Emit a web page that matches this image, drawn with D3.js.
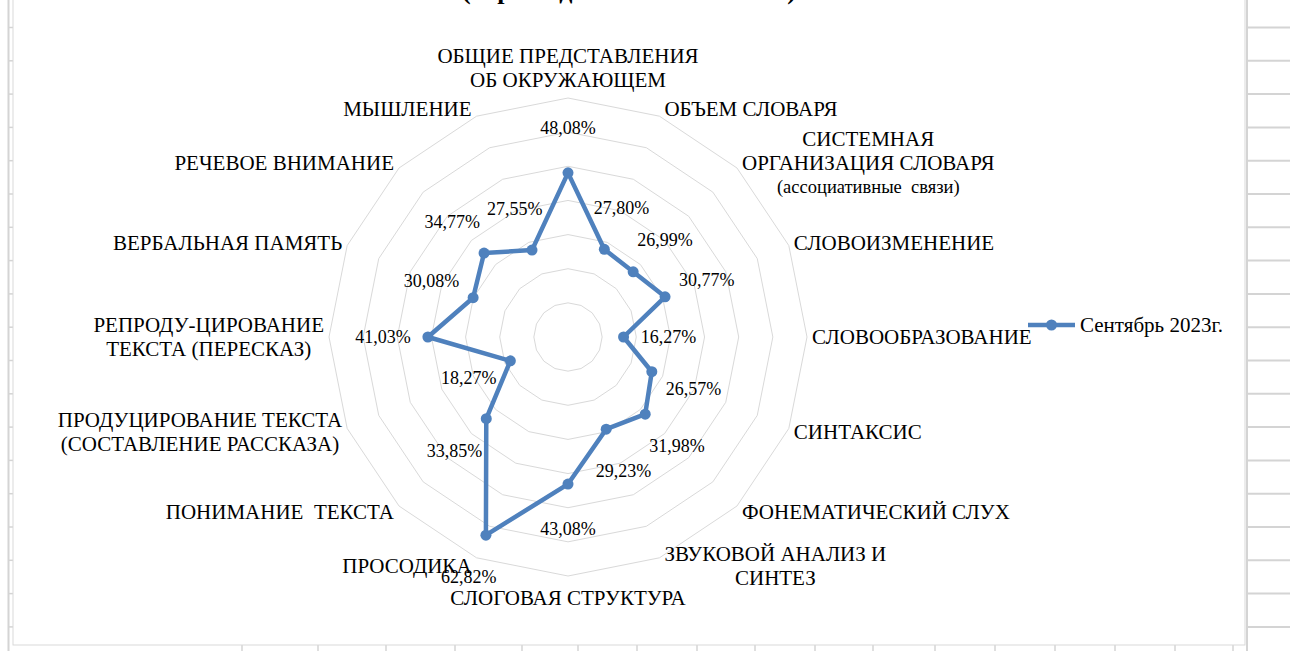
<!doctype html>
<html>
<head>
<meta charset="utf-8">
<title>Радар</title>
<script src="https://d3js.org/d3.v7.min.js"></script>
<style>
body { margin: 0; background: #fff; }
svg text { font-family: "Liberation Serif", "Times New Roman", serif; fill: #000; }
</style>
</head>
<body>
<script>
var chartTitle = "(первая диагностика 2023 г.)";
var seriesName = "Сентябрь 2023г.";
var categories = [
    "ОБЩИЕ ПРЕДСТАВЛЕНИЯ\nОБ ОКРУЖАЮЩЕМ",
    "ОБЪЕМ СЛОВАРЯ",
    "СИСТЕМНАЯ\nОРГАНИЗАЦИЯ СЛОВАРЯ\n(ассоциативные  связи)",
    "СЛОВОИЗМЕНЕНИЕ",
    "СЛОВООБРАЗОВАНИЕ",
    "СИНТАКСИС",
    "ФОНЕМАТИЧЕСКИЙ СЛУХ",
    "ЗВУКОВОЙ АНАЛИЗ И\nСИНТЕЗ",
    "СЛОГОВАЯ СТРУКТУРА",
    "ПРОСОДИКА",
    "ПОНИМАНИЕ  ТЕКСТА",
    "ПРОДУЦИРОВАНИЕ ТЕКСТА\n(СОСТАВЛЕНИЕ РАССКАЗА)",
    "РЕПРОДУ-ЦИРОВАНИЕ\nТЕКСТА (ПЕРЕСКАЗ)",
    "ВЕРБАЛЬНАЯ ПАМЯТЬ",
    "РЕЧЕВОЕ ВНИМАНИЕ",
    "МЫШЛЕНИЕ"
];
var values = [48.08, 27.80, 26.99, 30.77, 16.27, 26.57, 31.98, 29.23,
              43.08, 62.82, 33.85, 18.27, 41.03, 30.08, 34.77, 27.55];
var gridLevels = [10, 20, 30, 40, 50, 60, 70];

// spreadsheet cells around the chart object
var sheetColumns = [242, 318, 386, 455, 522, 578, 637, 697, 755, 815, 873, 935, 995, 1055, 1115, 1175, 1233];

var W = 1290, H = 651;
var cx = 568, cy = 337, R = 239;
var lineH = 24;
var blue = "#4f81bd";

var svg = d3.select("body").append("svg").attr("width", W).attr("height", H);

// background sheet grid
var sheet = svg.append("g").attr("stroke", "#d4d4d4").attr("fill", "none");
var rows = d3.range(27.5, H, 33.3);
sheet.selectAll("line.rl").data(rows).enter().append("line")
    .attr("x1", 8).attr("x2", 13).attr("y1", d => d).attr("y2", d => d).attr("stroke-width", 1.5);
sheet.selectAll("line.rr").data(rows).enter().append("line")
    .attr("x1", 1247).attr("x2", W).attr("y1", d => d).attr("y2", d => d).attr("stroke-width", 2);
sheet.selectAll("line.cb").data(sheetColumns).enter().append("line")
    .attr("x1", d => d).attr("x2", d => d).attr("y1", 645).attr("y2", H).attr("stroke-width", 1.5);
sheet.append("line").attr("x1", 8.5).attr("x2", 8.5).attr("y1", 0).attr("y2", H).attr("stroke-width", 2);
sheet.append("line").attr("x1", 1247).attr("x2", 1247).attr("y1", 0).attr("y2", H).attr("stroke-width", 2);

// chart object
svg.append("rect").attr("x", 13).attr("y", -2).attr("width", 1232).attr("height", 647)
    .attr("fill", "#fff").attr("stroke", "#d9d9d9").attr("stroke-width", 1);

// title (scrolled off the top, only the descenders show)
svg.append("text").attr("x", 629).attr("y", -1)
    .attr("text-anchor", "middle").attr("font-weight", "bold").attr("font-size", 26)
    .text(chartTitle);

var n = categories.length;
var r = d3.scaleLinear().domain([0, 70]).range([0, R]);
var ang = function(i) { return i * 2 * Math.PI / n; };

var plot = svg.append("g").attr("transform", "translate(" + cx + "," + cy + ")");

// grid polygons
var gridLine = d3.lineRadial().curve(d3.curveLinearClosed);
plot.selectAll("path.grid").data(gridLevels).enter().append("path")
    .attr("class", "grid")
    .attr("d", function(lv) { return gridLine(categories.map(function(c, i) { return [ang(i), r(lv)]; })); })
    .attr("fill", "none").attr("stroke", "#d9d9d9").attr("stroke-width", 1);

// series
var seriesLine = d3.lineRadial()
    .angle(function(d, i) { return ang(i); })
    .radius(function(d) { return r(d); })
    .curve(d3.curveLinearClosed);
plot.append("path").attr("d", seriesLine(values))
    .attr("fill", "none").attr("stroke", blue).attr("stroke-width", 4.5).attr("stroke-linejoin", "round");
plot.selectAll("circle.pt").data(values).enter().append("circle")
    .attr("class", "pt")
    .attr("cx", function(d, i) { return r(d) * Math.sin(ang(i)); })
    .attr("cy", function(d, i) { return -r(d) * Math.cos(ang(i)); })
    .attr("r", 5.5).attr("fill", blue);

// data labels
plot.selectAll("text.val").data(values).enter().append("text")
    .attr("class", "val")
    .attr("x", function(d, i) { return (r(d) + 45) * Math.sin(ang(i)); })
    .attr("y", function(d, i) { return -(r(d) + 45) * Math.cos(ang(i)); })
    .attr("dy", "0.35em").attr("text-anchor", "middle").attr("font-size", 18)
    .text(function(d) { return d.toFixed(2).replace(".", ",") + "%"; });

// category labels
plot.selectAll("g.cat").data(categories).enter().append("g")
    .attr("class", "cat")
    .each(function(d, i) {
        var g = d3.select(this);
        var lines = d.split("\n");
        var s = Math.sin(ang(i)), c = Math.cos(ang(i));
        var vx = r(70) * s, vy = -r(70) * c;
        var t = g.selectAll("text").data(lines).enter().append("text")
            .attr("text-anchor", "middle")
            .attr("font-size", function(l) { return /[а-я]/.test(l) ? 18.5 : 21; })
            .style("white-space", "pre")
            .text(function(l) { return l; });
        var w = d3.max(t.nodes(), function(nd) { return nd.getComputedTextLength(); });
        var h = lines.length * lineH;
        var bx, by;
        if (Math.abs(s) < 0.1) {
            bx = vx;
            by = vy + (c > 0 ? -(h / 2 + 6) : (h / 2 + 10));
        } else {
            bx = vx + Math.sign(s) * (5 + w / 2);
            by = vy - c * 8;
        }
        t.attr("x", bx)
            .attr("y", function(l, j) { return by - h / 2 + lineH * j + lineH / 2; })
            .attr("dy", "0.35em");
    });

// legend
var lg = svg.append("g").attr("transform", "translate(1028,325)");
lg.append("line").attr("x1", 0).attr("x2", 47).attr("y1", 0).attr("y2", 0)
    .attr("stroke", blue).attr("stroke-width", 4.5);
lg.append("circle").attr("cx", 23.5).attr("cy", 0).attr("r", 5.5).attr("fill", blue);
lg.append("text").attr("x", 52).attr("y", 0).attr("dy", "0.35em").attr("font-size", 21).text(seriesName);
</script>
</body>
</html>
